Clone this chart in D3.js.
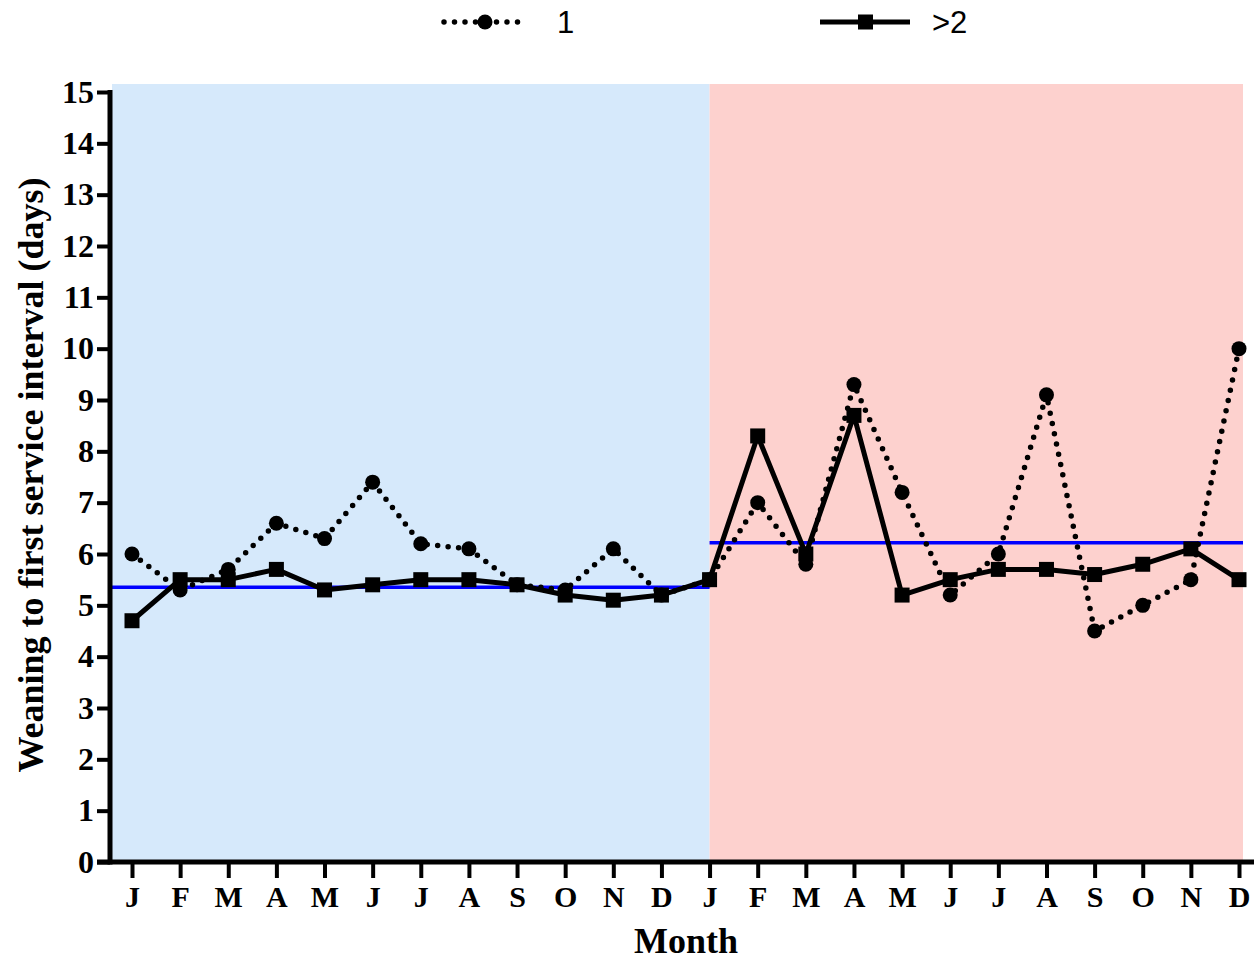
<!DOCTYPE html>
<html>
<head>
<meta charset="utf-8">
<script src="https://cdn.jsdelivr.net/npm/d3@7"></script>
<style>
  body { margin: 0; background: #fff; }
  text { fill: #000; }
</style>
</head>
<body>
<div id="chart"></div>
<script>
// months on the x axis, two years side by side
var months = ['J','F','M','A','M','J','J','A','S','O','N','D',
              'J','F','M','A','M','J','J','A','S','O','N','D'];
var parity1 = [6.0, 5.3, 5.7, 6.6, 6.3, 7.4, 6.2, 6.1, 5.4, 5.3, 6.1, 5.2,
               5.5, 7.0, 5.8, 9.3, 7.2, 5.2, 6.0, 9.1, 4.5, 5.0, 5.5, 10.0];
var parity2 = [4.7, 5.5, 5.5, 5.7, 5.3, 5.4, 5.5, 5.5, 5.4, 5.2, 5.1, 5.2,
               5.5, 8.3, 6.0, 8.7, 5.2, 5.5, 5.7, 5.7, 5.6, 5.8, 6.1, 5.5];
var periodMeans = [5.35, 6.22];
var yTicks = d3.range(0, 16);

var W = 1254, H = 960;
var plotLeft = 112, plotRight = 1243, plotTop = 84, plotBottom = 862;
var serif = '"Liberation Serif", "Times New Roman", serif';

var svg = d3.select('#chart').append('svg').attr('width', W).attr('height', H);

var x = d3.scaleLinear().domain([0, 23]).range([132, 1239]);
var y = d3.scaleLinear().domain([0, 15]).range([plotBottom, 92]);

// background bands
svg.append('rect').attr('x', plotLeft).attr('y', plotTop)
  .attr('width', x(12) - plotLeft).attr('height', plotBottom - plotTop).attr('fill', '#d6e9fb');
svg.append('rect').attr('x', x(12)).attr('y', plotTop)
  .attr('width', plotRight - x(12)).attr('height', plotBottom - plotTop).attr('fill', '#fdd1ce');

// mean lines
var spans = [[plotLeft, x(12)], [x(12), plotRight]];
svg.selectAll('line.mean').data(periodMeans).enter().append('line')
  .attr('class', 'mean')
  .attr('x1', function(d, i) { return spans[i][0]; })
  .attr('x2', function(d, i) { return spans[i][1]; })
  .attr('y1', function(d) { return y(d); })
  .attr('y2', function(d) { return y(d); })
  .attr('stroke', '#0000ff').attr('stroke-width', 3.5);

var line = d3.line().x(function(d, i) { return x(i); }).y(function(d) { return y(d); });

// parity 1 dotted
svg.append('path').datum(parity1).attr('d', line)
  .attr('fill', 'none').attr('stroke', '#000').attr('stroke-width', 5.5)
  .attr('stroke-linecap', 'round').attr('stroke-dasharray', '0 10.5');
svg.selectAll('circle.p1').data(parity1).enter().append('circle')
  .attr('cx', function(d, i) { return x(i); })
  .attr('cy', function(d) { return y(d); })
  .attr('r', 7.5).attr('fill', '#000');

// parity >2 solid
svg.append('path').datum(parity2).attr('d', line)
  .attr('fill', 'none').attr('stroke', '#000').attr('stroke-width', 5)
  .attr('stroke-linejoin', 'round');
svg.selectAll('rect.p2').data(parity2).enter().append('rect')
  .attr('x', function(d, i) { return x(i) - 7.5; })
  .attr('y', function(d) { return y(d) - 7.5; })
  .attr('width', 15).attr('height', 15).attr('fill', '#000');

// y axis
var yAxis = svg.append('g').attr('transform', 'translate(110,0)')
  .call(d3.axisLeft(y).tickValues(yTicks).tickSize(13).tickPadding(3).tickFormat(d3.format('d')));
yAxis.select('.domain').remove();
yAxis.selectAll('.tick line').attr('stroke', '#000').attr('stroke-width', 4);
yAxis.selectAll('.tick text')
  .style('font-family', serif).style('font-weight', 'bold').style('font-size', '32px');
svg.append('line').attr('x1', 110).attr('x2', 110).attr('y1', 90).attr('y2', plotBottom + 2.5)
  .attr('stroke', '#000').attr('stroke-width', 5);

// x axis
var xAxis = svg.append('g').attr('transform', 'translate(0,' + plotBottom + ')')
  .call(d3.axisBottom(x).tickValues(d3.range(24)).tickSize(16).tickPadding(8)
    .tickFormat(function(i) { return months[i]; }));
xAxis.select('.domain').remove();
xAxis.selectAll('.tick line').attr('stroke', '#000').attr('stroke-width', 4);
xAxis.selectAll('.tick text')
  .style('font-family', serif).style('font-weight', 'bold').style('font-size', '30px');
svg.append('line').attr('x1', 97).attr('x2', W).attr('y1', plotBottom).attr('y2', plotBottom)
  .attr('stroke', '#000').attr('stroke-width', 5);

// axis titles
svg.append('text').attr('x', 686).attr('y', 953).attr('text-anchor', 'middle')
  .style('font-family', serif).style('font-weight', 'bold').style('font-size', '36px').text('Month');
svg.append('text').attr('transform', 'translate(43,475) rotate(-90)').attr('text-anchor', 'middle')
  .style('font-family', serif).style('font-weight', 'bold').style('font-size', '36px')
  .text('Weaning to first service interval (days)');

// legend
var lg = svg.append('g');
lg.append('line').attr('x1', 444).attr('x2', 527).attr('y1', 22).attr('y2', 22)
  .attr('stroke', '#000').attr('stroke-width', 5.5).attr('stroke-linecap', 'round')
  .attr('stroke-dasharray', '0 10.5');
lg.append('circle').attr('cx', 485).attr('cy', 22).attr('r', 7.5).attr('fill', '#000');
lg.append('text').attr('x', 557).attr('y', 33)
  .style('font-family', '"Liberation Sans", Arial, sans-serif').style('font-size', '31px').text('1');
lg.append('line').attr('x1', 820).attr('x2', 910).attr('y1', 22).attr('y2', 22)
  .attr('stroke', '#000').attr('stroke-width', 5);
lg.append('rect').attr('x', 858).attr('y', 14.5).attr('width', 15).attr('height', 15).attr('fill', '#000');
lg.append('text').attr('x', 932).attr('y', 33)
  .style('font-family', '"Liberation Sans", Arial, sans-serif').style('font-size', '31px').text('>2');
</script>
</body>
</html>
